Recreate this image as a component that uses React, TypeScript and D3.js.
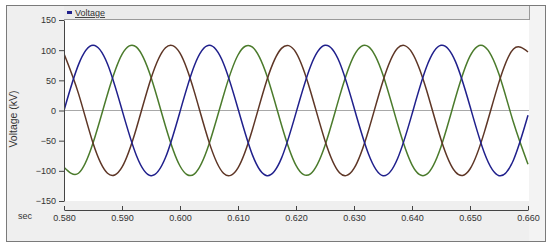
import {useEffect, useRef} from 'react';
import * as d3 from 'd3';

// sample times (s), one every 2.5 ms
const times = d3.range(33).map((i) => +(0.58 + i * 0.0025).toFixed(4));
// (kV)
const phaseBlue = [0, 76, 108, 77, 1, -75, -108, -78, -2, 75, 108, 78, 3, -74, -108, -79, -4, 73, 108, 80, 5, -72, -108, -80, -6, 72, 108, 81, 7, -71, -108, -82, -8];
const phaseBrown = [94, 28, -54, -104, -94, -29, 53, 104, 95, 30, -52, -104, -95, -31, 51, 103, 96, 32, -50, -103, -96, -33, 49, 103, 96, 34, -48, -102, -97, -35, 47, 102, 97];
const phaseGreen = [-94, -104, -54, 27, 93, 105, 55, -26, -92, -105, -56, 25, 92, 105, 57, -24, -91, -105, -58, 23, 91, 106, 59, -22, -90, -106, -60, 21, 90, 106, 60, -20, -89];
const yTicks = [-150, -100, -50, 0, 50, 100, 150];
const xTicks = [0.58, 0.59, 0.6, 0.61, 0.62, 0.63, 0.64, 0.65, 0.66];

const series = [
	{name: 'green', values: phaseGreen, color: '#4b7b2c'},
	{name: 'brown', values: phaseBrown, color: '#5e3626'},
	{name: 'blue', values: phaseBlue, color: '#20208c'},
];

export default function App() {
	const ref = useRef<SVGSVGElement>(null);

	useEffect(() => {
		const svg = d3.select(ref.current);
		svg.selectAll('*').remove();

		const W = 550, H = 249;
		const left = 64, right = 529, top = 20, bottom = 201, axisY = 210;
		const font = 'Liberation Sans, Arial, sans-serif';

		const x = d3.scaleLinear().domain([0.58, 0.66]).range([left, right - 1]);
		const y = d3.scaleLinear().domain([-150, 150]).range([bottom, top]);

		// outer frame
		svg.append('rect').attr('x', 6.5).attr('y', 5.5).attr('width', 539).attr('height', 236)
			.attr('fill', '#efefef').attr('stroke', '#7a7a7a');
		// right column
		svg.append('rect').attr('x', right).attr('y', 6).attr('width', 16).attr('height', 235)
			.attr('fill', '#f3f3f3');
		svg.append('line').attr('x1', right + 0.5).attr('x2', right + 0.5).attr('y1', 6).attr('y2', top)
			.attr('stroke', '#9a9a9a');
		// header strip
		svg.append('rect').attr('x', left).attr('y', 6).attr('width', right - left).attr('height', top - 6)
			.attr('fill', '#ebebeb');
		svg.append('line').attr('x1', left).attr('x2', right + 1).attr('y1', top - 0.5).attr('y2', top - 0.5)
			.attr('stroke', '#9a9a9a');
		// plot area
		svg.append('rect').attr('x', left).attr('y', top).attr('width', right - left).attr('height', bottom - top)
			.attr('fill', '#ffffff');

		// legend
		svg.append('rect').attr('x', 67).attr('y', 11).attr('width', 5).attr('height', 3).attr('fill', '#20208c');
		svg.append('text').attr('x', 75).attr('y', 16).attr('font-family', font).attr('font-size', 9)
			.attr('fill', '#333').attr('text-decoration', 'underline').text('Voltage');

		// zero line
		svg.append('line').attr('x1', left).attr('x2', right).attr('y1', y(0)).attr('y2', y(0))
			.attr('stroke', '#a8a8a8').attr('stroke-width', 1.2);

		svg.append('clipPath').attr('id', 'plotclip').append('rect')
			.attr('x', left).attr('y', top).attr('width', right - left).attr('height', bottom - top);

		const line = d3.line<number>()
			.x((d, i) => x(times[i]))
			.y((d) => y(d))
			.curve(d3.curveNatural);

		svg.append('g').attr('clip-path', 'url(#plotclip)')
			.selectAll('path').data(series).enter().append('path')
			.attr('d', (s) => line(s.values))
			.attr('fill', 'none')
			.attr('stroke', (s) => s.color)
			.attr('stroke-width', 1.5);

		// y axis
		const gy = svg.append('g').attr('transform', `translate(${left},0)`)
			.call(d3.axisLeft(y).tickValues(yTicks).tickSize(5).tickSizeOuter(0).tickPadding(3)
				.tickFormat(d3.format('d')));
		gy.select('.domain').attr('stroke', '#444');
		gy.selectAll('line').attr('stroke', '#444');
		gy.selectAll('text').attr('font-family', font).attr('font-size', 9).attr('fill', '#333');

		// x axis
		const gx = svg.append('g').attr('transform', `translate(0,${axisY})`)
			.call(d3.axisBottom(x).tickValues(xTicks).tickSize(-4).tickSizeOuter(0).tickPadding(5)
				.tickFormat(d3.format('.3f')));
		gx.select('.domain').attr('stroke', '#444');
		gx.selectAll('line').attr('stroke', '#444');
		gx.selectAll('text').attr('font-family', font).attr('font-size', 9).attr('fill', '#333');

		svg.append('text').attr('x', 18).attr('y', 219).attr('font-family', font).attr('font-size', 9)
			.attr('fill', '#333').text('sec');

		svg.append('text').attr('transform', `translate(17,119) rotate(-90)`)
			.attr('text-anchor', 'middle').attr('font-family', font).attr('font-size', 10.5)
			.attr('fill', '#333').text('Voltage (kV)');

		svg.attr('width', W).attr('height', H);
	}, []);

	return (<svg ref={ref}
	             width={550}
	             height={249}
	             style={{position: 'fixed', left: 0, top: 0, background: '#fff'}}></svg>);
}
